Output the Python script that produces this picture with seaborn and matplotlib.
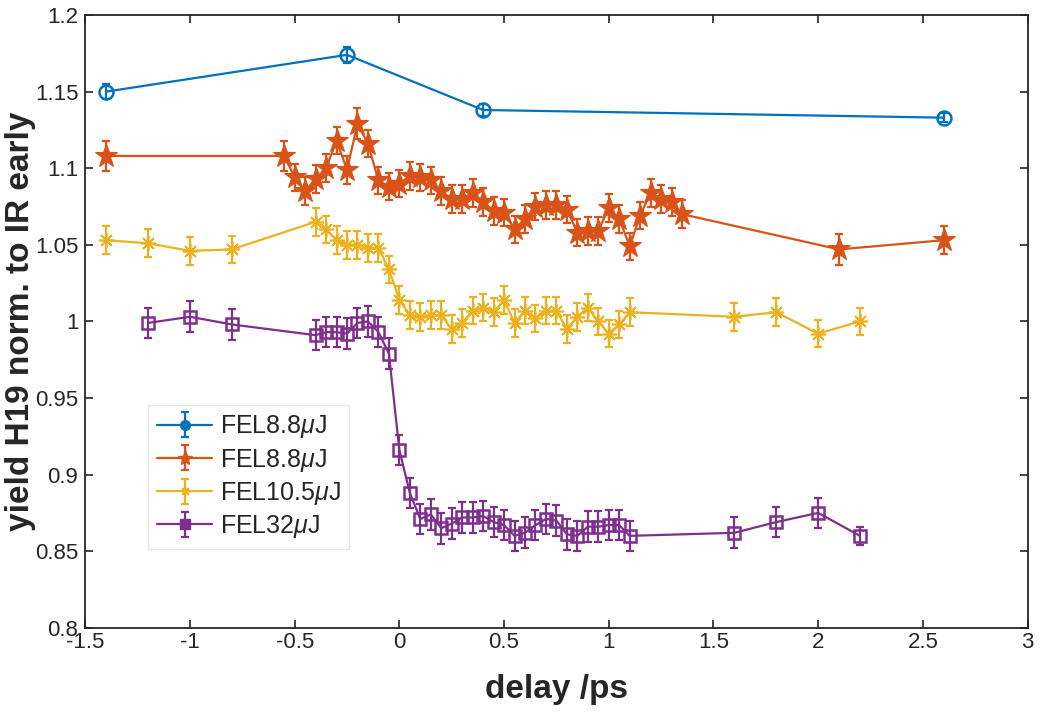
import seaborn as sns
import numpy as np
import matplotlib.pyplot as plt

# FEL 8.8 uJ (coarse scan)
x_blue = [-1.4, -0.25, 0.4, 2.6]
y_blue = [1.150, 1.174, 1.138, 1.133]
e_blue = [0.005, 0.005, 0.004, 0.003]

# FEL 8.8 uJ (fine scan)
x_orange = [-1.4, -0.55, -0.5, -0.45, -0.4, -0.35, -0.3, -0.25, -0.2, -0.15, -0.1, -0.05,
            0.0, 0.05, 0.1, 0.15, 0.2, 0.25, 0.3, 0.35, 0.4, 0.45, 0.5, 0.55, 0.6, 0.65,
            0.7, 0.75, 0.8, 0.85, 0.9, 0.95, 1.0, 1.05, 1.1, 1.15, 1.2, 1.25, 1.3, 1.35,
            2.1, 2.6]
y_orange = [1.108, 1.108, 1.094, 1.085, 1.093, 1.100, 1.118, 1.099, 1.129, 1.116, 1.092, 1.088,
            1.090, 1.095, 1.094, 1.092, 1.085, 1.080, 1.080, 1.084, 1.078, 1.072, 1.071, 1.060,
            1.067, 1.075, 1.076, 1.076, 1.073, 1.058, 1.059, 1.059, 1.074, 1.067, 1.049, 1.069,
            1.084, 1.080, 1.078, 1.070, 1.047, 1.053]
e_orange = [0.010, 0.010, 0.009, 0.009, 0.009, 0.009, 0.009, 0.009, 0.010, 0.009, 0.009, 0.009,
            0.009, 0.009, 0.009, 0.009, 0.009, 0.009, 0.009, 0.009, 0.009, 0.009, 0.009, 0.009,
            0.009, 0.009, 0.009, 0.009, 0.009, 0.009, 0.009, 0.009, 0.009, 0.009, 0.009, 0.009,
            0.009, 0.009, 0.009, 0.009, 0.010, 0.009]

# FEL 10.5 uJ
x_yellow = [-1.4, -1.2, -1.0, -0.8, -0.4, -0.35, -0.3, -0.25, -0.2, -0.15, -0.1, -0.05,
            0.0, 0.05, 0.1, 0.15, 0.2, 0.25, 0.3, 0.35, 0.4, 0.45, 0.5, 0.55, 0.6, 0.65,
            0.7, 0.75, 0.8, 0.85, 0.9, 0.95, 1.0, 1.05, 1.1, 1.6, 1.8, 2.0, 2.2]
y_yellow = [1.053, 1.051, 1.046, 1.047, 1.065, 1.060, 1.053, 1.050, 1.050, 1.048, 1.048, 1.034,
            1.014, 1.004, 1.003, 1.004, 1.004, 0.995, 0.999, 1.007, 1.009, 1.006, 1.014, 0.999,
            1.007, 1.002, 1.007, 1.007, 0.995, 1.003, 1.009, 1.000, 0.992, 0.998, 1.006,
            1.003, 1.006, 0.992, 1.000]
e_yellow = [0.009] * len(x_yellow)

# FEL 32 uJ
x_purple = [-1.2, -1.0, -0.8, -0.4, -0.35, -0.3, -0.25, -0.2, -0.15, -0.1, -0.05,
            0.0, 0.05, 0.1, 0.15, 0.2, 0.25, 0.3, 0.35, 0.4, 0.45, 0.5, 0.55, 0.6, 0.65,
            0.7, 0.75, 0.8, 0.85, 0.9, 0.95, 1.0, 1.05, 1.1, 1.6, 1.8, 2.0, 2.2]
y_purple = [0.999, 1.003, 0.998, 0.991, 0.993, 0.993, 0.992, 0.999, 1.000, 0.993, 0.979,
            0.916, 0.888, 0.871, 0.874, 0.865, 0.868, 0.872, 0.872, 0.873, 0.869, 0.867, 0.860,
            0.862, 0.867, 0.871, 0.870, 0.861, 0.860, 0.866, 0.866, 0.867, 0.867, 0.860,
            0.862, 0.869, 0.875, 0.860]
e_purple = [0.010] * (len(x_purple) - 1) + [0.006]

labels = ['FEL8.8$\\mu$J', 'FEL8.8$\\mu$J', 'FEL10.5$\\mu$J', 'FEL32$\\mu$J']
colors = ['#0072BD', '#D95319', '#EDB120', '#7E2F8E']
markers = ['o', '*', (8, 2, 0), 's']

sns.set_style('ticks')
plt.rcParams['font.family'] = ['Liberation Sans', 'DejaVu Sans']
plt.rcParams['mathtext.fontset'] = 'custom'
plt.rcParams['mathtext.rm'] = 'Liberation Sans'
plt.rcParams['mathtext.it'] = 'Liberation Sans:italic'

fig = plt.figure(figsize=(10.4, 7.15), dpi=100)
ax = fig.add_axes([0.082, 0.122, 0.906, 0.857])

series = [
    (x_blue, y_blue, e_blue, dict(markersize=10, markerfacecolor='none', markeredgewidth=1.8)),
    (x_orange, y_orange, e_orange, dict(markersize=17, markeredgewidth=0.8)),
    (x_yellow, y_yellow, e_yellow, dict(markersize=11, markeredgewidth=1.2)),
    (x_purple, y_purple, e_purple, dict(markersize=9, markerfacecolor='none', markeredgewidth=1.8)),
]

handles = []
for (xs, ys, es, mk), c, m, lab in zip(series, colors, markers, labels):
    sns.lineplot(x=xs, y=ys, sort=False, errorbar=None, color=c, linewidth=1.6,
                 marker=m, markeredgecolor=c, ax=ax, **mk)
    ax.errorbar(xs, ys, yerr=es, fmt='none', ecolor=c, elinewidth=1.6,
                capsize=3.2, capthick=1.6)
    # legend proxy: line + filled marker + error bar, nothing drawn on the axes
    proxy = ax.errorbar([np.nan], [np.nan], yerr=[0.01], color=c, marker=m,
                        markersize=7 if m != '*' else 11, markerfacecolor=c,
                        markeredgecolor=c, linewidth=1.6, elinewidth=1.6,
                        capsize=3.2, capthick=1.6)
    handles.append(proxy)

ax.set_xlim(-1.5, 3)
ax.set_ylim(0.8, 1.2)
ax.set_xticks(np.arange(-1.5, 3.01, 0.5))
ax.set_xticklabels(['-1.5', '-1', '-0.5', '0', '0.5', '1', '1.5', '2', '2.5', '3'])
ax.set_yticks(np.arange(0.8, 1.201, 0.05))
ax.set_yticklabels(['0.8', '0.85', '0.9', '0.95', '1', '1.05', '1.1', '1.15', '1.2'])

ax.tick_params(direction='in', top=True, right=True, length=6, width=1.2,
               labelsize=16, colors='#262626')
ax.tick_params(axis='x', pad=3)
ax.tick_params(axis='y', pad=5)
for s in ax.spines.values():
    s.set_linewidth(1.3)
    s.set_color('#262626')

ax.set_xlabel('delay /ps', fontsize=24, fontweight='bold', color='#262626', labelpad=15)
ax.set_ylabel('yield H19 norm. to IR early', fontsize=24, fontweight='bold',
              color='#262626')
ax.yaxis.set_label_coords(-0.052, 0.5)

leg = ax.legend(handles=handles, labels=labels, loc='upper left',
                bbox_to_anchor=(0.067, 0.364), fontsize=18, frameon=True,
                fancybox=False, edgecolor='#e0e0e0', handlelength=2.2,
                borderpad=0.35, labelspacing=0.25, handletextpad=0.3,
                borderaxespad=0)
leg.get_frame().set_linewidth(1.0)

fig.savefig('out.png', dpi=100)
